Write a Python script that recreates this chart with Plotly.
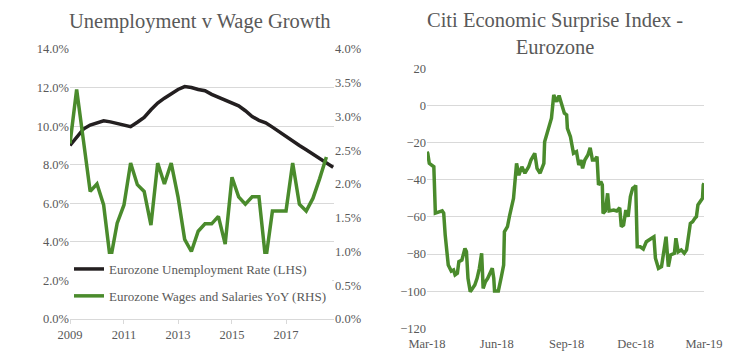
import pandas as pd
import plotly.graph_objects as go

# ---------------- data ----------------
unemp_dates = pd.date_range("2009-01-01", periods=40, freq="QS")
unemp_rate = [9.0, 9.45, 9.85, 10.06, 10.15, 10.28, 10.22, 10.15, 10.05, 9.97,
              10.2, 10.45, 10.85, 11.2, 11.45, 11.7, 11.9, 12.05, 12.0, 11.9,
              11.84, 11.65, 11.5, 11.38, 11.22, 11.05, 10.8, 10.5, 10.3, 10.17,
              9.95, 9.7, 9.5, 9.25, 9.0, 8.78, 8.55, 8.28, 8.05, 7.87]

wage_dates = pd.date_range("2009-01-01", periods=39, freq="QS")
wage_yoy = [2.60, 3.40, 2.65, 1.89, 2.0, 1.69, 0.87, 1.42, 1.69, 2.31,
            1.99, 1.89, 1.39, 2.31, 2.0, 2.31, 1.81, 1.18, 1.0, 1.30,
            1.41, 1.41, 1.52, 1.11, 2.10, 1.81, 1.70, 1.81, 1.81, 0.87,
            1.6, 1.6, 1.6, 2.31, 1.70, 1.6, 1.79, 2.08, 2.40]

left_ticks = ["2009-01-01", "2011-01-01", "2013-01-01", "2015-01-01", "2017-01-01"]
left_tick_labels = ["2009", "2011", "2013", "2015", "2017"]

cesi_dates = ["2018-03-01", "2018-03-02", "2018-03-04", "2018-03-10", "2018-03-12", "2018-03-21",
              "2018-03-23", "2018-03-25", "2018-03-29", "2018-04-02", "2018-04-05", "2018-04-07",
              "2018-04-10", "2018-04-12", "2018-04-16", "2018-04-20", "2018-04-22", "2018-04-24",
              "2018-04-27", "2018-04-30", "2018-05-03", "2018-05-06", "2018-05-09", "2018-05-12",
              "2018-05-14", "2018-05-17", "2018-05-20", "2018-05-26", "2018-05-28", "2018-05-29",
              "2018-06-03", "2018-06-07", "2018-06-10", "2018-06-11", "2018-06-15", "2018-06-18",
              "2018-06-23", "2018-06-27", "2018-06-30", "2018-07-04", "2018-07-08", "2018-07-13",
              "2018-07-16", "2018-07-21", "2018-07-24", "2018-07-28", "2018-08-02", "2018-08-03",
              "2018-08-09", "2018-08-12", "2018-08-15", "2018-08-19", "2018-08-22", "2018-08-29",
              "2018-09-01", "2018-09-02", "2018-09-06", "2018-09-10", "2018-09-14", "2018-09-17",
              "2018-09-20", "2018-09-22", "2018-09-25", "2018-09-29", "2018-10-02", "2018-10-05",
              "2018-10-08", "2018-10-11", "2018-10-13", "2018-10-16", "2018-10-18", "2018-10-19",
              "2018-10-22", "2018-10-25", "2018-10-27", "2018-11-02", "2018-11-06", "2018-11-10",
              "2018-11-12", "2018-11-15", "2018-11-18", "2018-11-21", "2018-11-24", "2018-11-27",
              "2018-11-30", "2018-12-01", "2018-12-03", "2018-12-07", "2018-12-11", "2018-12-15",
              "2018-12-22", "2018-12-25", "2018-12-27", "2018-12-31", "2019-01-04", "2019-01-08",
              "2019-01-10", "2019-01-13", "2019-01-16", "2019-01-21", "2019-01-23", "2019-01-26",
              "2019-01-30", "2019-02-03", "2019-02-06", "2019-02-11", "2019-02-14", "2019-02-17",
              "2019-02-19", "2019-02-21", "2019-02-24", "2019-02-27", "2019-02-28", "2019-03-01"]
cesi_values = [-25.0, -25.8, -31.2, -33.0, -58.0, -56.8,
               -58.0, -69.8, -85.9, -89.2, -88.6, -91.3,
               -90.4, -84.1, -83.2, -77.0, -78.8, -93.1,
               -100.3, -98.5, -96.7, -93.1, -87.7, -79.6,
               -98.5, -94.9, -93.1, -87.7, -93.1, -99.9,
               -99.9, -92.2, -85.9, -68.0, -65.3, -59.0,
               -50.0, -31.2, -37.5, -33.0, -36.5, -33.0,
               -29.4, -25.8, -33.9, -36.5, -31.2, -19.5,
               -10.5, -6.9, 5.6, 2.0, 5.3, -4.2,
               -5.1, -12.3, -16.8, -25.8, -24.9, -32.1,
               -29.4, -33.9, -29.4, -26.7, -22.8, -29.4,
               -29.4, -27.6, -42.8, -41.0, -42.8, -58.1,
               -56.8, -47.3, -56.8, -56.3, -56.8, -55.1,
               -65.3, -64.4, -56.3, -59.9, -49.1, -44.6,
               -43.8, -43.0, -76.1, -76.1, -77.3, -73.4,
               -71.5, -70.7, -82.3, -87.7, -86.8, -77.0,
               -70.7, -86.8, -80.5, -79.6, -71.5, -78.8,
               -77.8, -79.6, -77.8, -63.5, -62.6, -60.8,
               -59.9, -53.6, -51.8, -50.0, -42.8, -41.9]

right_ticks = ["2018-03-01", "2018-06-01", "2018-09-01", "2018-12-01", "2019-03-01"]
right_tick_labels = ["Mar-18", "Jun-18", "Sep-18", "Dec-18", "Mar-19"]

# ---------------- styling ----------------
W, H = 734, 356
OFF = 8  # page body margin offset
FONT = "Liberation Serif"
GREY = "#595959"
GRID = "#d9d9d9"
GREEN = "#4a8b2c"
BLACK = "#231f20"

def px_x(p):
    return (p - OFF) / W

def px_y(p):
    return 1 - (p - OFF) / H

L_dom_x = [px_x(70), px_x(334)]
L_dom_y = [px_y(319), px_y(49)]
R_dom_x = [px_x(427), px_x(704)]
R_dom_y = [px_y(328.3), px_y(68.3)]

fig = go.Figure()

fig.add_trace(go.Scatter(x=unemp_dates, y=unemp_rate, mode="lines",
                         name="Eurozone Unemployment Rate (LHS)",
                         line=dict(color=BLACK, width=3.5),
                         xaxis="x", yaxis="y", legendgroup="a"))
fig.add_trace(go.Scatter(x=wage_dates, y=wage_yoy, mode="lines",
                         name="Eurozone Wages and Salaries YoY (RHS)",
                         line=dict(color=GREEN, width=3.5),
                         xaxis="x", yaxis="y2", legendgroup="b"))
fig.add_trace(go.Scatter(x=cesi_dates, y=cesi_values, mode="lines",
                         line=dict(color=GREEN, width=3.5), showlegend=False,
                         xaxis="x3", yaxis="y3"))

tickfont = dict(family=FONT, size=12.5, color=GREY)

r_ymin, r_ymax = -120, 20
zero_pos = R_dom_y[0] + (0 - r_ymin) / (r_ymax - r_ymin) * (R_dom_y[1] - R_dom_y[0])

fig.update_layout(
    width=W, height=H,
    margin=dict(l=0, r=0, t=0, b=0, autoexpand=False),
    paper_bgcolor="white", plot_bgcolor="white",
    font=dict(family=FONT, color=GREY),
    xaxis=dict(domain=L_dom_x, anchor="y", type="date",
               range=["2009-01-01", "2018-10-12"],
               tickvals=left_ticks, ticktext=left_tick_labels,
               showgrid=False, showline=True, linecolor=GRID, linewidth=1,
               ticks="outside", ticklen=4, tickcolor=GRID,
               tickfont=tickfont),
    yaxis=dict(domain=L_dom_y, anchor="x", range=[0, 14], dtick=2,
               tickformat=".1f", ticksuffix="%",
               showgrid=True, gridcolor=GRID, gridwidth=1,
               zeroline=False, showline=False, ticks="",
               tickfont=tickfont),
    yaxis2=dict(domain=L_dom_y, anchor="x", overlaying="y", side="right",
                range=[0, 4], dtick=0.5, tickformat=".1f", ticksuffix="%",
                showgrid=False, zeroline=False, showline=False, ticks="",
                tickfont=tickfont),
    xaxis3=dict(domain=R_dom_x, anchor="y3", type="date",
                range=["2018-03-01", "2019-03-01"],
                tickvals=right_ticks, ticktext=right_tick_labels,
                showgrid=False, showline=False, ticks="",
                ticklabelstandoff=6,
                tickfont=tickfont),
    xaxis4=dict(overlaying="x3", anchor="free", position=zero_pos,
                type="date", range=["2018-03-01", "2019-03-01"],
                tickvals=right_ticks, showticklabels=False,
                showgrid=False, showline=True, linecolor=GRID, linewidth=1,
                ticks="outside", ticklen=3, tickcolor=GRID),
    yaxis3=dict(domain=R_dom_y, anchor="x3", range=[r_ymin, r_ymax], dtick=20,
                showgrid=True, gridcolor=GRID, gridwidth=1,
                zeroline=False, showline=False, ticks="",
                tickfont=tickfont),
    showlegend=True,
    legend=dict(x=px_x(69), y=px_y(254), xanchor="left", yanchor="top",
                bgcolor="white", font=dict(family=FONT, size=13, color=GREY),
                traceorder="grouped", tracegroupgap=7,
                itemwidth=30),
    annotations=[
        dict(text="Unemployment v Wage Growth", x=px_x(200), y=px_y(21),
             xref="paper", yref="paper", showarrow=False,
             xanchor="center", yanchor="middle",
             font=dict(family=FONT, size=20.5, color=GREY)),
        dict(text="Citi Economic Surprise Index -<br>Eurozone", x=px_x(555), y=px_y(33),
             xref="paper", yref="paper", showarrow=False,
             xanchor="center", yanchor="middle",
             font=dict(family=FONT, size=20.5, color=GREY)),
    ],
)

fig.write_html("out.html")
